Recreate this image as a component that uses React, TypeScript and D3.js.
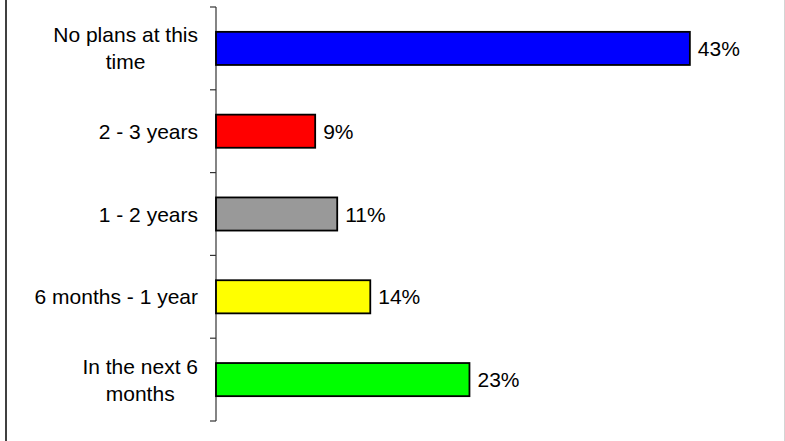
import React, { useEffect, useRef } from 'react';
import * as d3 from 'd3';

const categories = ['No plans at this\ntime', '2 - 3 years', '1 - 2 years', '6 months - 1 year', 'In the next 6\nmonths'];
const values = [43, 9, 11, 14, 23];
const colors = ['#0000ff', '#ff0000', '#999999', '#ffff00', '#00ff00'];

export default function App() {
  const svgRef = useRef<SVGSVGElement>(null);

  useEffect(() => {
    if (!svgRef.current) return;
    const width = 785;
    const height = 441;
    const font = '"Liberation Sans", Arial, Helvetica, sans-serif';

    const svg = d3.select(svgRef.current)
      .attr('width', width)
      .attr('height', height);
    svg.selectAll('*').remove();

    svg.append('rect').attr('width', width).attr('height', height).attr('fill', '#ffffff');

    // frame edges
    svg.append('line').attr('x1', 6).attr('x2', 6).attr('y1', 0).attr('y2', height)
      .attr('stroke', '#404040').attr('stroke-width', 2);
    svg.append('line').attr('x1', 784.5).attr('x2', 784.5).attr('y1', 0).attr('y2', height)
      .attr('stroke', '#d4d4d4').attr('stroke-width', 1);

    const x = d3.scaleLinear().domain([0, 50]).range([216, 767]);
    const y = d3.scaleBand<string>()
      .domain(categories)
      .range([7, 421])
      .paddingInner(0.6)
      .paddingOuter(0.3);

    const step = y.step();
    const axisX = 216;

    // axis
    const axis = svg.append('g');
    axis.append('line')
      .attr('x1', axisX).attr('x2', axisX)
      .attr('y1', 7).attr('y2', 421)
      .attr('stroke', '#333').attr('stroke-width', 1.2);
    const tickYs = categories.map(c => y(c)! - step * 0.3).concat([421]);
    axis.selectAll('line.tick')
      .data(tickYs)
      .enter()
      .append('line')
      .attr('class', 'tick')
      .attr('x1', axisX - 6).attr('x2', axisX)
      .attr('y1', d => d).attr('y2', d => d)
      .attr('stroke', '#333').attr('stroke-width', 1.2);

    // bars
    svg.selectAll('rect.bar')
      .data(values)
      .enter()
      .append('rect')
      .attr('class', 'bar')
      .attr('x', x(0))
      .attr('y', (d, i) => y(categories[i])!)
      .attr('width', d => x(d) - x(0))
      .attr('height', y.bandwidth())
      .attr('fill', (d, i) => colors[i])
      .attr('stroke', '#000')
      .attr('stroke-width', 1.8);

    // value labels
    svg.selectAll('text.val')
      .data(values)
      .enter()
      .append('text')
      .attr('class', 'val')
      .attr('x', d => x(d) + 8)
      .attr('y', (d, i) => y(categories[i])! + y.bandwidth() / 2 + 7.5)
      .attr('font-family', font)
      .attr('font-size', '21px')
      .attr('fill', '#000')
      .text(d => `${d}%`);

    // category labels: block right-aligned, lines centered within block
    const lineH = 27;
    categories.forEach(cat => {
      const lines = cat.split('\n');
      const cy = y(cat)! + y.bandwidth() / 2;
      const g = svg.append('g');
      const texts = lines.map((ln, k) =>
        g.append('text')
          .attr('font-family', font)
          .attr('font-size', '21px')
          .attr('fill', '#000')
          .attr('text-anchor', 'middle')
          .attr('y', cy + 7.5 + (k - (lines.length - 1) / 2) * lineH)
          .text(ln)
      );
      const maxW = d3.max(texts, t => (t.node() as SVGTextElement).getComputedTextLength()) || 0;
      texts.forEach(t => t.attr('x', 198 - maxW / 2));
    });
  }, []);

  return (
    <svg ref={svgRef} style={{ position: 'absolute', left: 0, top: 0, display: 'block' }} />
  );
}
